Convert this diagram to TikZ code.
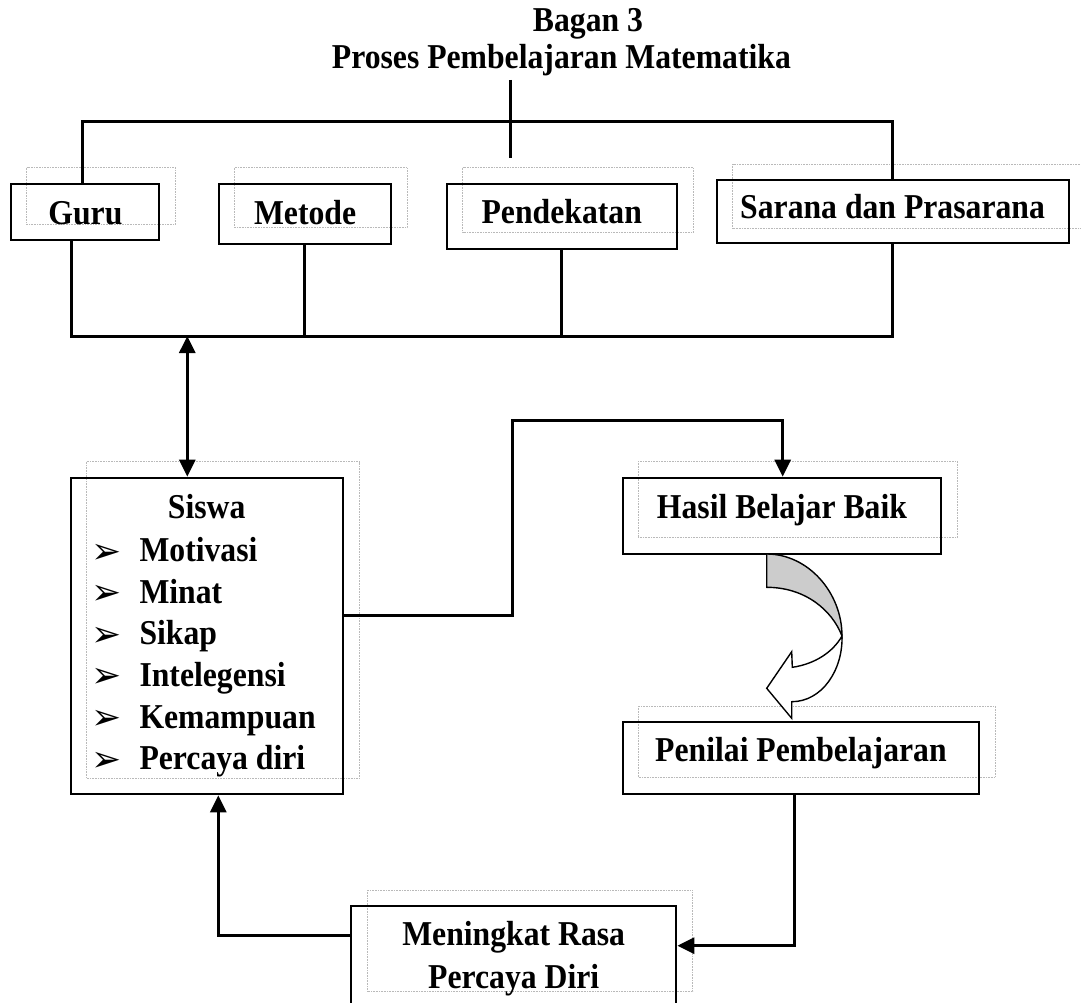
\documentclass[tikz,border=0pt]{standalone}
\usepackage{fontspec}
\usepackage{graphicx}
\setmainfont{Liberation Serif}
\newfontfamily\dejavu{DejaVu Sans}
\newcommand\vtxt[1]{\scalebox{1}[1.1]{#1}}
\usetikzlibrary{arrows.meta}
\begin{document}
\begin{tikzpicture}[x=1pt,y=-1pt,
  box/.style={draw,line width=2pt,inner sep=0pt},
  ghost/.style={draw=gray!55,line width=0.9pt,dash pattern=on 0.8pt off 0.8pt},
  conn/.style={line width=3pt},
  tip/.style={-{Triangle[length=17pt,width=16pt]}},
  lbl/.style={font=\fontsize{31.7}{38}\selectfont\bfseries,inner sep=0pt,anchor=base west},
  clbl/.style={lbl,anchor=base},
  bul/.style={font=\dejavu\fontsize{36}{40}\selectfont,inner sep=0pt,anchor=base west}
]
\useasboundingbox (0,0) rectangle (1081,1003);

% ghost (dotted) boxes
\draw[ghost] (26.5,167.7) rectangle (175.6,224.3);
\draw[ghost] (234.5,167.7) rectangle (407,227.7);
\draw[ghost] (462.5,167.7) rectangle (693.5,232);
\draw[ghost] (1085,164.3) -- (732.7,164.3) -- (732.7,228.3) -- (1085,228.3);
\draw[ghost] (86.7,461.7) rectangle (359.3,778.3);
\draw[ghost] (638,461) rectangle (957,537.7);
\draw[ghost] (638,706) rectangle (995,777.3);
\draw[ghost] (367,890) rectangle (692.8,991.7);

% boxes
\node[box,minimum width=148pt,minimum height=56.3pt] (guru) at (85,212.15) {};
\node[box,minimum width=171.5pt,minimum height=60pt] (metode) at (304.75,214) {};
\node[box,minimum width=229.9pt,minimum height=64.5pt] (pend) at (561.55,216.25) {};
\node[box,minimum width=352.3pt,minimum height=63.3pt] (sarana) at (892.85,211.65) {};
\node[box,minimum width=272.6pt,minimum height=316.6pt] (siswa) at (207,636) {};
\node[box,minimum width=318.3pt,minimum height=76.3pt] (hasil) at (781.85,515.85) {};
\node[box,minimum width=356.3pt,minimum height=72.6pt] (penilai) at (800.85,758) {};
\node[box,minimum width=325.4pt,minimum height=104pt] (mening) at (513.7,957.7) {};

% texts
\node[lbl] (title1) at (532.7,31.7) {\vtxt{Bagan 3}};
\node[lbl] (title2) at (331.7,68.8) {\vtxt{Proses Pembelajaran Matematika}};
\node[lbl] (tguru) at (48.2,224.3) {\vtxt{Guru}};
\node[lbl] (tmetode) at (253.8,224.3) {\vtxt{Metode}};
\node[lbl] (tpend) at (481.4,223.5) {\vtxt{Pendekatan}};
\node[lbl] (tsarana) at (740,218.3) {\vtxt{Sarana dan Prasarana}};
\node[lbl] (thasil) at (656.7,518.3) {\vtxt{Hasil Belajar Baik}};
\node[lbl] (tpenilai) at (655,761) {\vtxt{Penilai Pembelajaran}};
\node[clbl] (tsiswa) at (206.7,518.3) {\vtxt{Siswa}};
\foreach \t [count=\i from 0] in {Motivasi,Minat,Sikap,Intelegensi,Kemampuan,Percaya diri}{
  \node[bul] (b\i) at (91,563+41.6*\i) {➢};
  \node[lbl] (l\i) at (139.3,561.7+41.6*\i) {\vtxt{\t}};
}
\node[clbl] (tmen1) at (513.7,945) {\vtxt{Meningkat Rasa}};
\node[clbl] (tmen2) at (513.7,988.5) {\vtxt{Percaya Diri}};

% connectors
\coordinate (stubtop) at (510.7,80);
\coordinate (stubbot) at (510.7,158);
\draw[conn] (stubtop) -- (stubbot);
\draw[conn] (82.6,0 |- guru.north) -- (82.6,122) -- (892.5,122) -- (892.5,0 |- sarana.north);
\draw[conn] (71.3,0 |- guru.south) -- (71.3,336) -- (892.5,336) -- (892.5,0 |- sarana.south);
\draw[conn] (metode.south) -- (metode.south |- 0,336);
\draw[conn] (pend.south) -- (pend.south |- 0,336);
\draw[conn,{Triangle[length=17pt,width=16pt]}-{Triangle[length=17pt,width=16pt]}] (187.3,336) -- (187.3,0 |- siswa.north);
\draw[conn,tip] (siswa.east |- 0,615) -- (512,615) -- (512,420) -- (782.7,420) -- (782.7,0 |- hasil.north);
\draw[conn,tip] (794.8,0 |- penilai.south) -- (794.8,945.7) -- (mening.east |- 0,945.7);
\draw[conn,tip] (mening.west |- 0,935.7) -- (218.3,935.7) -- (218.3,0 |- siswa.south);

% curved arrow from Hasil to Penilai
\draw[line width=1.4pt,fill=gray!40] (766.7,554) .. controls (808,554) and (842,592.5) .. (842,636)
  .. controls (832,610) and (805,587.3) .. (766.7,587.3) -- cycle;
\draw[line width=1.4pt,fill=white,line join=miter] (842,636) .. controls (843,670) and (822,701.7) .. (791.7,701.7)
  -- (791.7,718.3) -- (766.7,688.3) -- (791.7,651.7) -- (792.3,667.3)
  .. controls (815,664) and (833,652) .. (842,636) -- cycle;
\end{tikzpicture}
\end{document}
